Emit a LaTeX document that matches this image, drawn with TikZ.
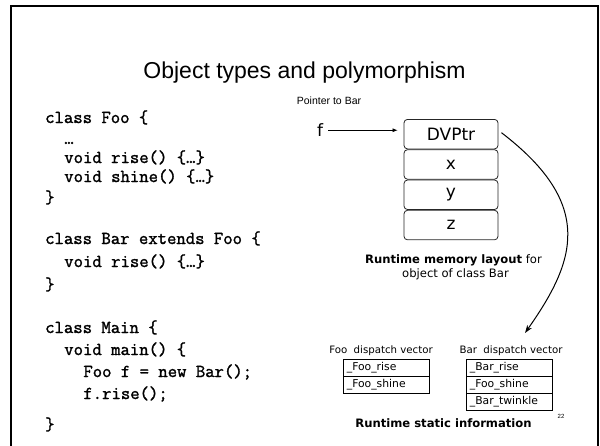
\documentclass[tikz,border=0pt]{standalone}
\usepackage{fontspec}
\setmainfont{Liberation Sans}
\setmonofont{Latin Modern Mono}[AutoFakeBold=1.6]
\newfontfamily\dvfont{DejaVu Sans}
\usetikzlibrary{arrows.meta}

\begin{document}
\begin{tikzpicture}[x=1pt,y=-1pt,
  code/.style={anchor=base west, inner sep=0,
    font=\ttfamily\bfseries\fontsize{18.2}{20}\selectfont},
  memcell/.style={draw=black!85, line width=0.8pt, rounded corners=3.5pt,
    minimum width=94pt, minimum height=29.5pt, inner sep=0, anchor=north,
    font=\dvfont\fontsize{17}{20}\selectfont},
  vcell/.style={draw, line width=0.7pt, minimum height=16.3pt, text width=79pt,
    inner xsep=3.8pt, inner ysep=0, align=left, anchor=north west,
    font=\dvfont\fontsize{10.8}{12}\selectfont},
  caption/.style={inner sep=0, anchor=base, font=\dvfont\fontsize{11.6}{14}\selectfont},
  vlabel/.style={inner sep=0, anchor=base, font=\dvfont\fontsize{10.2}{12}\selectfont},
]
\useasboundingbox (0,0) rectangle (600,445);

% slide frame
\draw[line width=2.3pt] (11,446) -- (11,6) -- (598,6) -- (598,446);

% title
\node[inner sep=0, anchor=base, font=\fontsize{23}{26}\selectfont] (title) at (304.5,78.5)
  {Object types and polymorphism};

% source code
\node[code] (c1)  at (45,123)   {class Foo \{};
\node[code] (c2)  at (64.1,144) {…};
\node[code] (c3)  at (64.1,163) {void rise() \{…\}};
\node[code] (c4)  at (64.1,182) {void shine() \{…\}};
\node[code] (c5)  at (45,203)   {\}};
\node[code] (c6)  at (45,244)   {class Bar extends Foo \{};
\node[code] (c7)  at (64.1,267) {void rise() \{…\}};
\node[code] (c8)  at (45,290)   {\}};
\node[code] (c9)  at (45,333)   {class Main \{};
\node[code] (c10) at (64.1,355) {void main() \{};
\node[code] (c11) at (83.2,377) {Foo f = new Bar();};
\node[code] (c12) at (83.2,399) {f.rise();};
\node[code] (c13) at (45,430)   {\}};

% object layout in memory
\node[inner sep=0, anchor=base, font=\fontsize{10.5}{12}\selectfont] (ptr) at (329,104) {Pointer to Bar};
\node[memcell] (dv) at (451,119) {DVPtr};
\node[memcell] (mx) at (dv.south) {x};
\node[memcell] (my) at (mx.south) {y};
\node[memcell] (mz) at (my.south) {z};
\node[inner sep=0, anchor=base, font=\dvfont\fontsize{17}{20}\selectfont] (f) at (320,136.7) {f};
\draw[line width=0.7pt, -{Latex[length=5pt,width=4pt]}, shorten <=5pt, shorten >=6pt]
  (f.east) -- (f.east -| dv.west);

\node[caption] (mcap1) at (453.5,263) {\bfseries Runtime memory layout\mdseries{} for};
\node[caption] (mcap2) at (455.5,277) {object of class Bar};

% dispatch vectors
\node[vlabel] (flab) at (381,353.3) {Foo\ \ dispatch vector};
\node[vlabel] (blab) at (511,353.3) {Bar\ \ dispatch vector};

\node[vcell] (f1) at (342.7,359.3) {\_Foo\_rise};
\node[vcell] (f2) at (f1.south west) {\_Foo\_shine};

\node[vcell] (b1) at (465.7,359.3) {\_Bar\_rise};
\node[vcell] (b2) at (b1.south west) {\_Foo\_shine};
\node[vcell] (b3) at (b2.south west) {\_Bar\_twinkle};

\node[caption] (scap) at (443.5,427) {\bfseries Runtime static information};
\node[inner sep=0, anchor=base, font=\fontsize{6}{7}\selectfont] (pg) at (561,418) {22};

% pointer from the object to its class's dispatch vector
\coordinate (vtip) at (525,333);
\draw[line width=1pt, -{Stealth[length=8pt,width=5.5pt]}]
  ([xshift=3pt,yshift=1.5pt]dv.east) .. controls (596,205) and (575,262) .. (vtip);
\end{tikzpicture}
\end{document}
